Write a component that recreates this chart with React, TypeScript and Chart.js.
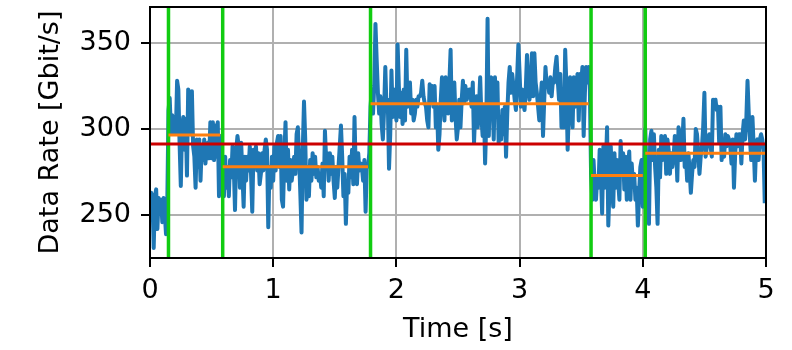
import React, { useEffect, useRef } from "react";
import { Chart, registerables } from "chart.js";

Chart.register(...registerables);

// ---- data ----
const SAMPLE_DT = 0.01; // seconds between samples

const RATES_000 = [
  255, 263, 259, 231, 261, 265, 242, 260, 251, 259,
  246, 260, 251, 239, 255, 311, 318, 298, 308, 298,
  307, 298, 328, 323, 292, 267, 301, 307, 288, 306,
  273, 323, 319, 297, 322, 290, 284, 266, 294, 278,
  294, 270, 290, 282, 294, 280, 290, 292, 283, 304,
  283, 304, 282, 302, 284, 304, 261, 296, 274, 282,
  261, 284, 266, 278, 261, 282, 272, 290, 278, 253,
  288, 296, 290, 266, 292, 274, 255, 284, 270, 284,
  276, 290, 274, 252, 288, 278, 290, 276, 286, 268,
  274, 286, 276, 288, 294, 288, 243, 278, 266, 284,
];
const RATES_100 = [
  270, 290, 276, 292, 296, 278, 296, 259, 255, 284,
  304, 270, 288, 265, 282, 270, 276, 284, 274, 297,
  301, 284, 263, 240, 288, 316, 294, 259, 278, 261,
  282, 270, 286, 274, 284, 272, 278, 270, 274, 266,
  280, 261, 299, 282, 286, 270, 286, 274, 284, 270,
  260, 278, 266, 278, 290, 302, 284, 261, 274, 245,
  270, 263, 284, 272, 288, 268, 307, 276, 268, 286,
  276, 280, 278, 270, 282, 252, 280, 278, 286, 313,
  323, 309, 325, 361, 340, 321, 309, 319, 303, 294,
  311, 336, 311, 317, 277, 297, 334, 307, 323, 315,
];
const RATES_200 = [
  305, 349, 325, 307, 321, 303, 323, 305, 346, 313,
  323, 327, 309, 317, 305, 309, 317, 313, 319, 319,
  321, 328, 319, 315, 313, 305, 301, 326, 317, 325,
  313, 325, 301, 313, 288, 297, 317, 330, 317, 305,
  330, 315, 309, 327, 346, 305, 317, 327, 307, 294,
  301, 317, 301, 317, 328, 315, 325, 317, 319, 323,
  323, 313, 327, 292, 311, 319, 301, 313, 330, 307,
  296, 313, 280, 305, 364, 296, 327, 330, 317, 294,
  330, 309, 327, 292, 307, 294, 311, 297, 313, 284,
  309, 327, 336, 321, 332, 325, 317, 311, 330, 349,
];
const RATES_300 = [
  332, 313, 323, 315, 311, 323, 343, 327, 317, 323,
  344, 319, 344, 327, 321, 313, 305, 317, 327, 296,
  317, 336, 325, 328, 321, 330, 319, 328, 327, 336,
  342, 328, 317, 332, 301, 317, 301, 346, 325, 288,
  313, 330, 311, 301, 330, 313, 317, 332, 305, 332,
  327, 336, 296, 321, 336, 327, 336, 325, 274, 259,
  282, 268, 259, 272, 266, 288, 274, 251, 290, 266,
  278, 301, 244, 266, 290, 270, 255, 286, 266, 282,
  270, 259, 293, 274, 286, 265, 284, 259, 278, 287,
  259, 280, 268, 274, 259, 266, 244, 263, 278, 282,
];
const RATES_400 = [
  255, 270, 300, 274, 259, 245, 294, 299, 282, 297,
  278, 266, 245, 288, 272, 296, 282, 290, 296, 274,
  294, 288, 274, 286, 278, 284, 296, 290, 270, 301,
  297, 282, 290, 306, 278, 284, 270, 286, 276, 263,
  274, 282, 278, 300, 297, 286, 274, 284, 290, 301,
  321, 284, 290, 294, 297, 290, 284, 317, 315, 317,
  311, 313, 292, 313, 282, 294, 284, 297, 290, 296,
  294, 290, 280, 294, 266, 286, 297, 290, 297, 297,
  280, 297, 305, 294, 305, 328, 309, 294, 282, 307,
  290, 270, 290, 294, 282, 294, 297, 294, 288, 257,
];

const CHANGEPOINTS = [0.15, 0.59, 1.79, 3.58, 4.02];
const SEGMENT_ENDS = [0.57, 1.77, 3.56, 4.0, 5.0];
const SEGMENT_MEANS = [296.5, 278.1, 314.7, 273.1, 285.9];
const OVERALL_MEAN = 291.3;

const X_MIN = 0;
const X_MAX = 5;
const Y_MIN = 225.2;
const Y_MAX = 370.8;
const X_TICKS = [0, 1, 2, 3, 4, 5];
const Y_TICKS = [250, 300, 350];

const FONT = "'DejaVu Sans', sans-serif";

const boxPlugin = {
  id: "axesBox",
  afterDatasetsDraw(chart: any) {
    const { ctx, chartArea } = chart;
    const { left, top, right, bottom } = chartArea;
    ctx.save();
    ctx.strokeStyle = "#000000";
    ctx.lineWidth = 2;
    ctx.strokeRect(left, top, right - left, bottom - top);
    ctx.restore();
  },
};

export default function App() {
  const canvasRef = useRef<HTMLCanvasElement | null>(null);

  useEffect(() => {
    if (!canvasRef.current) return;
    const rates = [...RATES_000, ...RATES_100, ...RATES_200, ...RATES_300, ...RATES_400];
    const series = rates.map((v, i) => ({ x: i * SAMPLE_DT, y: v }));

    const greenPts: any[] = [];
    CHANGEPOINTS.forEach((cp) => {
      greenPts.push({ x: cp, y: Y_MIN }, { x: cp, y: Y_MAX }, { x: cp, y: null });
    });
    const orangePts: any[] = [];
    CHANGEPOINTS.forEach((cp, k) => {
      orangePts.push(
        { x: cp, y: SEGMENT_MEANS[k] },
        { x: SEGMENT_ENDS[k], y: SEGMENT_MEANS[k] },
        { x: SEGMENT_ENDS[k], y: null }
      );
    });
    const redPts = [
      { x: X_MIN, y: OVERALL_MEAN },
      { x: X_MAX, y: OVERALL_MEAN },
    ];

    const tickFont = { family: FONT, size: 27 };

    const chart = new Chart(canvasRef.current, {
      type: "line",
      data: {
        datasets: [
          {
            data: redPts,
            borderColor: "#cc0000",
            borderWidth: 3,
            pointRadius: 0,
            tension: 0,
            spanGaps: false,
          },
          {
            data: orangePts,
            borderColor: "#ff7f0e",
            borderWidth: 3,
            borderCapStyle: "butt",
            pointRadius: 0,
            tension: 0,
            spanGaps: false,
          },
          {
            data: greenPts,
            borderColor: "#11cc11",
            borderWidth: 3.5,
            borderCapStyle: "butt",
            pointRadius: 0,
            tension: 0,
            spanGaps: false,
          },
          {
            data: series,
            borderColor: "#1f77b4",
            borderWidth: 4,
            borderJoinStyle: "round",
            pointRadius: 0,
            tension: 0,
          },
        ] as any,
      },
      options: {
        animation: false,
        responsive: false,
        maintainAspectRatio: false,
        events: [],
        layout: { padding: { top: 7, right: 26, left: 0, bottom: 0 } },
        plugins: {
          legend: { display: false },
          tooltip: { enabled: false },
        },
        scales: {
          x: {
            type: "linear",
            min: X_MIN,
            max: X_MAX,
            afterBuildTicks: (axis: any) => {
              axis.ticks = X_TICKS.map((v) => ({ value: v }));
            },
            afterFit: (scale: any) => {
              scale.height = 92;
              scale.paddingLeft = 0;
              scale.paddingRight = 0;
            },
            grid: {
              color: "#b0b0b0",
              lineWidth: 2,
              drawTicks: true,
              tickLength: 9,
              tickColor: "#000000",
              tickWidth: 2,
            },
            border: { display: false },
            ticks: {
              font: tickFont,
              color: "#000000",
              padding: 8,
              maxRotation: 0,
              autoSkip: false,
              callback: (v: any) => String(v),
            },
            title: {
              display: true,
              text: "Time [s]",
              font: tickFont,
              color: "#000000",
              padding: { top: 0, bottom: 4 },
            },
          },
          y: {
            type: "linear",
            min: Y_MIN,
            max: Y_MAX,
            afterBuildTicks: (axis: any) => {
              axis.ticks = Y_TICKS.map((v) => ({ value: v }));
            },
            afterFit: (scale: any) => {
              scale.width = 150;
              scale.paddingTop = 0;
              scale.paddingBottom = 0;
            },
            grid: {
              color: "#b0b0b0",
              lineWidth: 2,
              drawTicks: true,
              tickLength: 9,
              tickColor: "#000000",
              tickWidth: 2,
            },
            border: { display: false },
            ticks: {
              font: tickFont,
              color: "#000000",
              padding: 10,
              autoSkip: false,
              callback: (v: any) => String(v),
            },
            title: {
              display: true,
              text: "Data Rate [Gbit/s]",
              font: tickFont,
              color: "#000000",
              padding: { top: 35, bottom: 0 },
            },
          },
        },
      },
      plugins: [boxPlugin],
    } as any);

    return () => {
      chart.destroy();
    };
  }, []);

  return (
    <div
      style={{
        position: "absolute",
        left: 0,
        top: 0,
        width: 792,
        height: 350,
        background: "#ffffff",
      }}
    >
      <canvas
        ref={canvasRef}
        width={792}
        height={350}
        style={{ display: "block", width: 792, height: 350 }}
      />
    </div>
  );
}
